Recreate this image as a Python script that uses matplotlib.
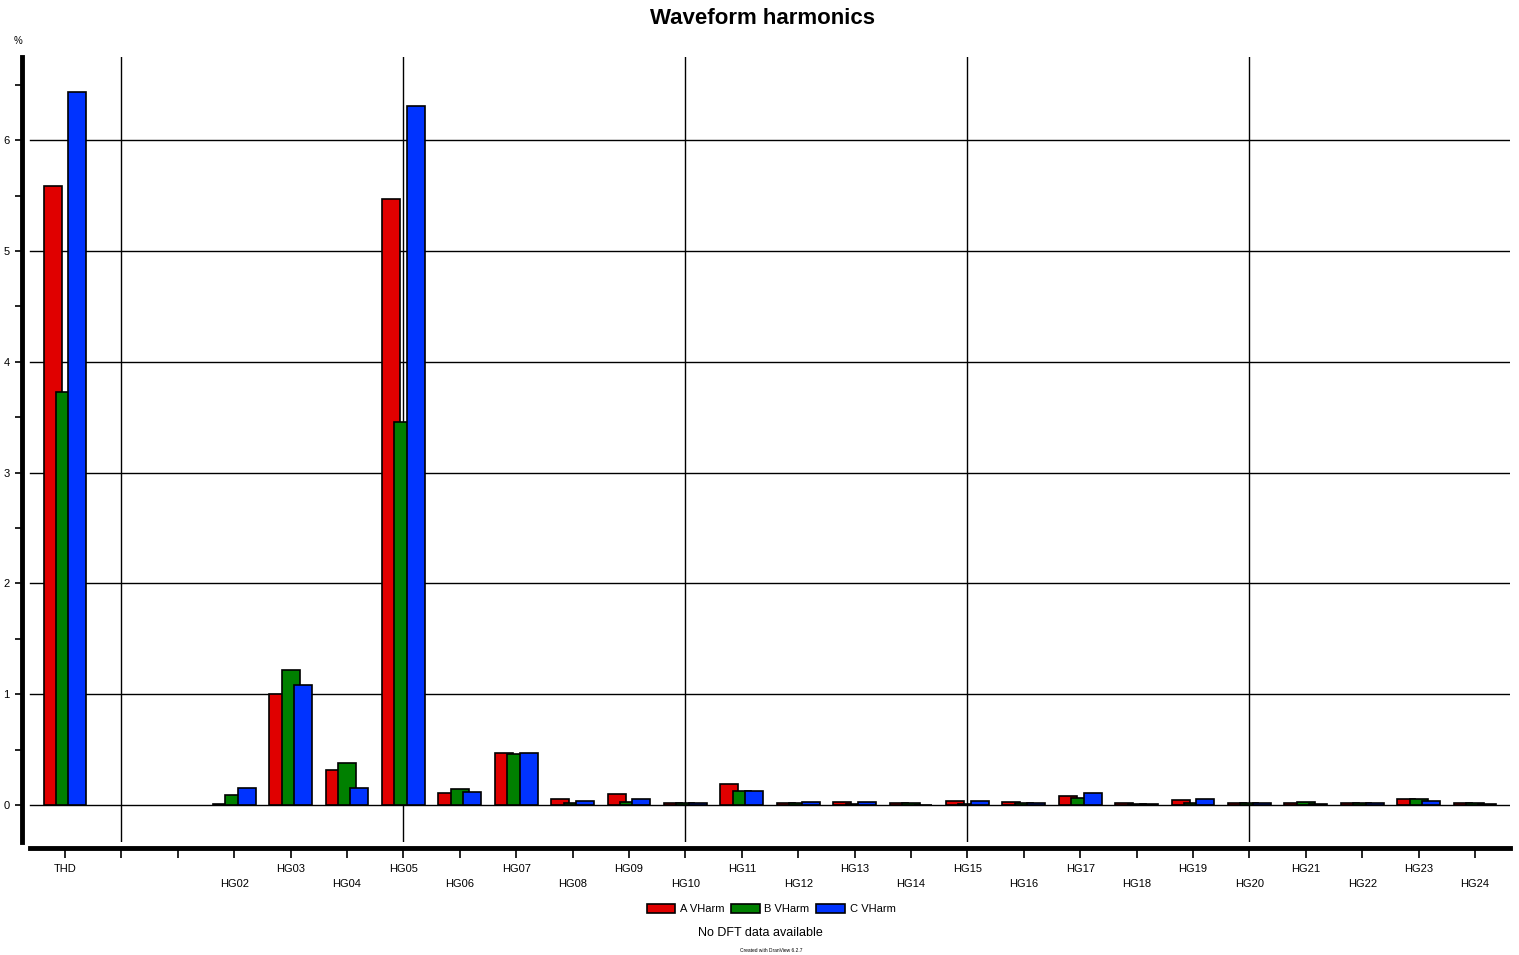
import numpy as np
import matplotlib.pyplot as plt
from matplotlib.ticker import MultipleLocator

plt.rcParams['font.family'] = ['Liberation Sans', 'DejaVu Sans']

# Categories (two empty slots between THD and HG02)
categories = ['THD', '', ''] + ['HG%02d' % n for n in range(2, 25)]

# Harmonic values in % (nan = no bar)
nan = np.nan
a_vharm = [5.59, nan, nan, 0.01, 1.00, 0.32, 5.47, 0.11, 0.47, 0.05, 0.10, 0.015,
           0.19, 0.015, 0.025, 0.015, 0.035, 0.025, 0.08, 0.015, 0.045, 0.015,
           0.015, 0.015, 0.055, 0.015]
b_vharm = [3.73, nan, nan, 0.09, 1.22, 0.38, 3.46, 0.145, 0.46, 0.015, 0.025, 0.015,
           0.13, 0.015, 0.01, 0.015, 0.01, 0.015, 0.065, 0.005, 0.02, 0.015,
           0.025, 0.015, 0.055, 0.015]
c_vharm = [6.43, nan, nan, 0.155, 1.08, 0.155, 6.31, 0.12, 0.47, 0.035, 0.05, 0.015,
           0.13, 0.025, 0.025, 0.003, 0.035, 0.015, 0.11, 0.005, 0.055, 0.015,
           0.005, 0.015, 0.035, 0.005]

series = [('A VHarm', a_vharm, '#E00000'),
          ('B VHarm', b_vharm, '#008000'),
          ('C VHarm', c_vharm, '#0033FF')]

W, H = 1519, 955
fig = plt.figure(figsize=(W / 100, H / 100), dpi=100)
ax = fig.add_axes([22 / W, (H - 842) / H, (1510 - 22) / W, (842 - 57) / H])

x = np.arange(len(categories))
bar_w = 0.32
offset = 0.22
for i, (name, vals, col) in enumerate(series):
    ax.bar(x + (i - 1) * offset, vals, width=bar_w, color=col,
           edgecolor='black', linewidth=1.2, label=name, zorder=3 + i)

ax.set_xlim(-0.762, 25.62)
ax.set_ylim(-0.334, 6.75)

# grid lines
gx0 = 8 / (1510 - 22)
for yv in range(0, 7):
    ax.axhline(yv, xmin=gx0, xmax=1, color='black', lw=1, zorder=1)
for xv in [1, 6, 11, 16, 21]:
    ax.axvline(xv, color='black', lw=1, zorder=1)

# spines
for s in ['top', 'right']:
    ax.spines[s].set_visible(False)
ax.spines['left'].set_linewidth(3.5)
ax.spines['bottom'].set_linewidth(3.5)
ax.spines['bottom'].set_position(('outward', 4))
ax.spines['bottom'].set_bounds(-0.62, 25.62)

# y ticks
ax.yaxis.set_major_locator(MultipleLocator(1))
ax.yaxis.set_minor_locator(MultipleLocator(0.5))
ax.tick_params(axis='y', which='both', length=5, width=1.2, labelsize=8, pad=4)
ax.set_yticks(range(0, 7))
ax.set_yticklabels([str(v) for v in range(0, 7)])

# x ticks, alternating in two rows
ax.set_xticks(x)
ax.set_xticklabels([])
ax.tick_params(axis='x', length=7, width=1.2)
for xi, lab in zip(x, categories):
    dy = 27 if xi % 2 == 0 else 42
    ax.annotate(lab, xy=(xi, 0), xycoords=('data', 'axes fraction'),
                xytext=(0, -dy), textcoords='offset pixels',
                ha='center', va='center', fontsize=8)

fig.text(762 / W, 1 - 18 / H, 'Waveform harmonics', ha='center', va='center',
         fontsize=16, fontweight='bold')
fig.text(18 / W, 1 - 41 / H, '%', ha='center', va='center', fontsize=7)

fig.legend(loc='center', bbox_to_anchor=(771 / W, 1 - 909 / H), ncol=3,
           frameon=False, fontsize=8, handlelength=2.6, handleheight=0.9,
           handletextpad=0.4, columnspacing=0.6)
fig.text(760 / W, 1 - 933 / H, 'No DFT data available', ha='center',
         va='center', fontsize=9)
fig.text(771 / W, 1 - 950 / H, 'Created with DranView 6.2.7', ha='center',
         va='center', fontsize=3.5)

fig.savefig('out.png', dpi=100)
